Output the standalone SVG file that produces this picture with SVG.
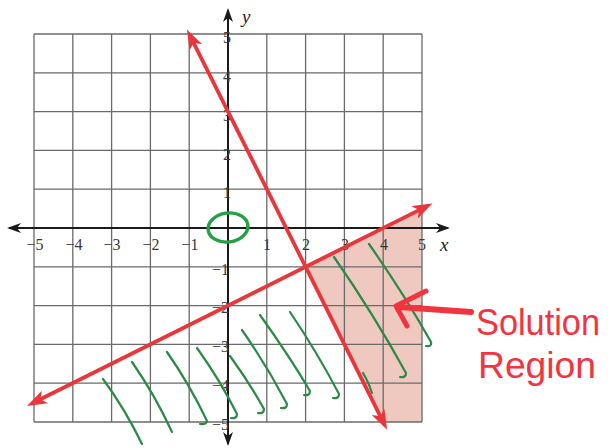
<svg xmlns="http://www.w3.org/2000/svg" width="608" height="448" viewBox="0 0 608 448">
<defs>
<style>
.grid line{stroke:#6a6a6a;stroke-width:1.3}
.axis{stroke:#1a1a1a;stroke-width:2;fill:none}
.tx{font-family:"Liberation Serif",serif;font-size:16px;fill:#3a3a3a;text-anchor:middle}
.ty{font-family:"Liberation Serif",serif;font-size:16px;fill:#3a3a3a;text-anchor:end}
.lbl{font-family:"Liberation Serif",serif;font-style:italic;font-size:19px;fill:#222}
.red{stroke:#e8363a;stroke-width:3.8;fill:none}
.hatch path{stroke:#2b8a45;stroke-width:2.2;fill:none;stroke-linecap:round}
.note{font-family:"Liberation Sans",sans-serif;font-size:36px;fill:#f23440}
</style>
<marker id="ra" viewBox="0 0 20 14" refX="14" refY="7" markerWidth="20" markerHeight="14" markerUnits="userSpaceOnUse" orient="auto-start-reverse"><path d="M0,0 L20,7 L0,14 L5,7 Z" fill="#e8363a"/></marker>
<marker id="ka" viewBox="0 0 14 10" refX="12" refY="5" markerWidth="14" markerHeight="10" markerUnits="userSpaceOnUse" orient="auto-start-reverse"><path d="M0,0 L14,5 L0,10 L4,5 Z" fill="#1a1a1a"/></marker>
</defs>
<rect width="608" height="448" fill="#ffffff"/>
<g id="solution-region"><polygon points="305.6,266.8 422,208.8 422,422 383.2,422" fill="#e4a394" opacity="0.6"/></g>
<g id="grid" class="grid">
<line x1="34" y1="34" x2="34" y2="422"/><line x1="72.8" y1="34" x2="72.8" y2="422"/><line x1="111.6" y1="34" x2="111.6" y2="422"/><line x1="150.4" y1="34" x2="150.4" y2="422"/><line x1="189.2" y1="34" x2="189.2" y2="422"/><line x1="266.8" y1="34" x2="266.8" y2="422"/><line x1="305.6" y1="34" x2="305.6" y2="422"/><line x1="344.4" y1="34" x2="344.4" y2="422"/><line x1="383.2" y1="34" x2="383.2" y2="422"/><line x1="422" y1="34" x2="422" y2="422"/>
<line x1="34" y1="34" x2="422" y2="34"/><line x1="34" y1="72.8" x2="422" y2="72.8"/><line x1="34" y1="111.6" x2="422" y2="111.6"/><line x1="34" y1="150.4" x2="422" y2="150.4"/><line x1="34" y1="189.2" x2="422" y2="189.2"/><line x1="34" y1="266.8" x2="422" y2="266.8"/><line x1="34" y1="305.6" x2="422" y2="305.6"/><line x1="34" y1="344.4" x2="422" y2="344.4"/><line x1="34" y1="383.2" x2="422" y2="383.2"/><line x1="34" y1="422" x2="422" y2="422"/>
</g>
<g id="axes">
<line class="axis" x1="9" y1="228" x2="448" y2="228" marker-start="url(#ka)" marker-end="url(#ka)"/>
<line class="axis" x1="228" y1="10" x2="228" y2="444" marker-start="url(#ka)" marker-end="url(#ka)"/>
<text class="lbl" x="440" y="251">x</text>
<text class="lbl" x="242" y="23">y</text>
</g>
<g id="ticks">
<text class="tx" x="35" y="250">−5</text><text class="tx" x="74" y="250">−4</text><text class="tx" x="112" y="250">−3</text><text class="tx" x="151" y="250">−2</text><text class="tx" x="190" y="250">−1</text>
<text class="tx" x="267" y="250">1</text><text class="tx" x="306" y="250">2</text><text class="tx" x="345" y="250">3</text><text class="tx" x="384" y="250">4</text><text class="tx" x="422" y="250">5</text>
<text class="ty" x="231" y="43">5</text><text class="ty" x="231" y="82">4</text><text class="ty" x="231" y="121">3</text><text class="ty" x="231" y="160">2</text><text class="ty" x="231" y="198">1</text>
<text class="ty" x="229" y="275">−1</text><text class="ty" x="229" y="313">−2</text><text class="ty" x="229" y="352">−3</text><text class="ty" x="229" y="391">−4</text><text class="ty" x="229" y="430">−5</text>
</g>
<g id="hatch" class="hatch">
<path d="M103,379 Q125,409 142,444"/>
<path d="M132,362 Q155,395 172,432"/>
<path d="M167,352 Q190,385 207,421 Q206,425 200,424"/>
<path d="M197,348 Q220,380 237,414 Q237,419 231,418"/>
<path d="M230,356 Q249,382 264,409 Q264,414 258,413"/>
<path d="M242,330 Q267,366 287,404 Q287,409 281,408"/>
<path d="M260,315 Q288,354 310,391 Q310,396 304,395"/>
<path d="M290,312 Q317,352 339,394 Q339,399 333,398"/>
<path d="M334,257 Q373,313 406,373 Q406,378 400,377"/>
<path d="M369,244 Q404,294 431,342 Q432,347 426,346"/>
<path d="M363,373 Q368,381 372,393"/>
</g>
<g id="origin-mark"><ellipse cx="228" cy="227.5" rx="20" ry="14.5" transform="rotate(-8 228 227.5)" fill="none" stroke="#24a044" stroke-width="3.4"/></g>
<g id="connectors">
<line class="red" x1="189.6" y1="34.8" x2="384.4" y2="424.4" marker-start="url(#ra)" marker-end="url(#ra)"/>
<line class="red" x1="32.4" y1="403.3" x2="427.1" y2="206.1" marker-start="url(#ra)" marker-end="url(#ra)"/>
<path d="M471,312 L399,307" stroke="#f23440" stroke-width="6" stroke-linecap="round" fill="none"/>
<path d="M426,291 L396,306 L407,326" stroke="#f23440" stroke-width="5" stroke-linecap="round" stroke-linejoin="round" fill="none"/>
</g>
<g id="annotation">
<text class="note" x="476" y="335" textLength="124" lengthAdjust="spacingAndGlyphs">Solution</text>
<text class="note" x="478" y="378" textLength="118" lengthAdjust="spacingAndGlyphs">Region</text>
</g>
</svg>
